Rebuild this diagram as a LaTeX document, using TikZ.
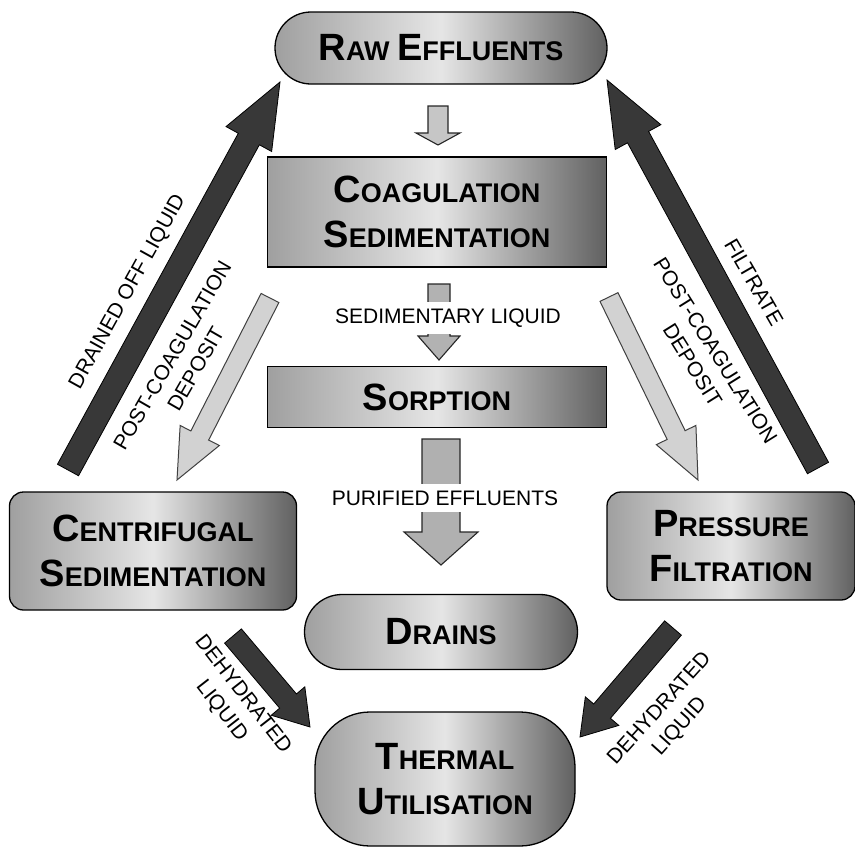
\documentclass[tikz,border=0pt]{standalone}
\usepackage{fontspec}
\setmainfont{Liberation Sans}
\usepackage{tikz}
\usetikzlibrary{calc}
\usetikzlibrary{shapes.misc}
\tikzset{proc/.style={draw=black, line width=1.3pt, left color=gray!75, right color=black!62, middle color=gray!20, font=\fontsize{27}{45}\selectfont\bfseries, align=center, inner sep=0pt}}
\tikzset{lbl/.style={font=\fontsize{21}{27}\selectfont, align=center, inner sep=1pt}}
\tikzset{darkarr/.style={fill=black!78, draw=black, line width=0.8pt}}
\tikzset{lightarr/.style={fill=gray!35, draw=black!75, line width=1pt}}
\tikzset{midarr/.style={draw=black!85, line width=1.1pt}}
\newcommand{\capsc}[2]{{\fontsize{38}{38}\selectfont #1}#2}
% block arrow: style, tail, tip, half shaft, half head, head length
\newcommand{\fatarrow}[6]{%
  \coordinate (hb) at ($(#3)!#6!(#2)$);
  \path[#1] ($(#2)!#4!-90:(#3)$) -- ($(hb)!#4!-90:(#3)$) -- ($(hb)!#5!-90:(#3)$) -- (#3)
    -- ($(hb)!#5!90:(#3)$) -- ($(hb)!#4!90:(#3)$) -- ($(#2)!#4!90:(#3)$) -- cycle;}

\begin{document}
\begin{tikzpicture}[x=1pt,y=-1pt]
\useasboundingbox (0,0) rectangle (855,847);

% process boxes
\node[proc, rounded rectangle, minimum width=332pt, minimum height=72pt] (raw) at (441,48) {\capsc{R}{AW} \capsc{E}{FFLUENTS}};
\node[proc, minimum width=339pt, minimum height=110pt] (coag) at (437,212) {\capsc{C}{OAGULATION}\\\capsc{S}{EDIMENTATION}};
\node[proc, minimum width=339pt, minimum height=61pt] (sorp) at (437,397) {\capsc{S}{ORPTION}};
\node[proc, rounded corners=14pt, minimum width=287pt, minimum height=118pt] (centr) at (153,551) {\capsc{C}{ENTRIFUGAL}\\\capsc{S}{EDIMENTATION}};
\node[proc, rounded corners=14pt, minimum width=248pt, minimum height=108pt] (press) at (731,546) {\capsc{P}{RESSURE}\\\capsc{F}{ILTRATION}};
\node[proc, rounded rectangle, minimum width=273pt, minimum height=75pt] (drains) at (441,632) {\capsc{D}{RAINS}};
\node[proc, rounded corners=55pt, minimum width=260pt, minimum height=134pt] (therm) at (445,779) {\capsc{T}{HERMAL}\\\capsc{U}{TILISATION}};

% main line
\coordinate (a1s) at (438,106);
\coordinate (a1e) at (438,145);
\fatarrow{midarr, fill=gray!45}{a1s}{a1e}{10pt}{22pt}{12pt}
\coordinate (a2s) at (439,284);
\coordinate (a2e) at (439,360);
\fatarrow{midarr, fill=gray!60}{a2s}{a2e}{11pt}{21pt}{24pt}
\coordinate (a3s) at (441,439);
\coordinate (a3e) at (441,565);
\fatarrow{midarr, fill=gray!62}{a3s}{a3e}{19pt}{37pt}{33pt}
\node[lbl, fill=white, inner sep=7pt] (sedliq) at (448,318) {SEDIMENTARY LIQUID};
\node[lbl, fill=white, inner sep=7pt] (purif) at (445,498) {PURIFIED EFFLUENTS};

% side loops
\coordinate (dols) at (68,470);
\coordinate (dole) at (280,82);
\fatarrow{darkarr}{dols}{dole}{12pt}{26pt}{65pt}
\coordinate (pcls) at (270,298);
\coordinate (pcle) at (177,480);
\fatarrow{lightarr}{pcls}{pcle}{10pt}{22pt}{50pt}
\coordinate (fils) at (818,468);
\coordinate (file) at (607,80);
\fatarrow{darkarr}{fils}{file}{12pt}{26pt}{65pt}
\coordinate (pcrs) at (609,297);
\coordinate (pcre) at (698,480);
\fatarrow{lightarr}{pcrs}{pcre}{10pt}{22pt}{50pt}
\coordinate (dhls) at (233,636);
\coordinate (dhle) at (310,727);
\fatarrow{darkarr}{dhls}{dhle}{11pt}{22pt}{34pt}
\coordinate (dhrs) at (673,628);
\coordinate (dhre) at (580,737);
\fatarrow{darkarr}{dhrs}{dhre}{11pt}{22pt}{34pt}

% arrow labels
\node[lbl, rotate=61] (dolt) at (128,292) {DRAINED OFF LIQUID};
\node[lbl, rotate=60] (pclt) at (184,362) {POST-COAGULATION\\DEPOSIT};
\node[lbl, rotate=-60] (filt) at (754,282) {FILTRATE};
\node[lbl, rotate=-58] (pcrt) at (704,358) {POST-COAGULATION\\DEPOSIT};
\node[lbl, rotate=-52] (dhlt) at (232,703) {DEHYDRATED\\LIQUID};
\node[lbl, rotate=48] (dhrt) at (670,718) {DEHYDRATED\\LIQUID};
\end{tikzpicture}
\end{document}
